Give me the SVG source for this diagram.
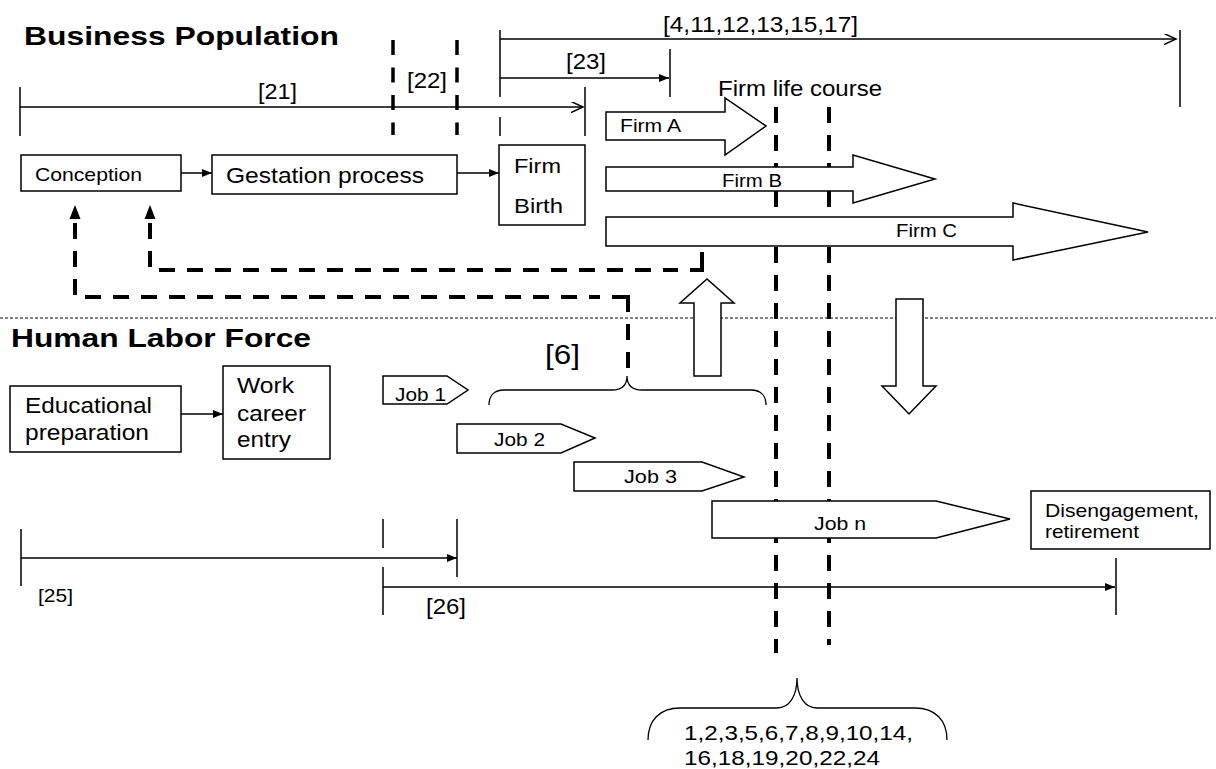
<svg xmlns="http://www.w3.org/2000/svg" width="1216" height="769" viewBox="0 0 1216 769">
<style>
text{font-family:"Liberation Sans",Arial,sans-serif;fill:#000}
.b{font-weight:bold}
.box{fill:#fff;stroke:#000;stroke-width:1.5}
.shape{fill:#fff;stroke:#000;stroke-width:1.5;stroke-linejoin:miter}
.ln{fill:none;stroke:#000;stroke-width:1.5}
.dash{fill:none;stroke:#000;stroke-width:4;stroke-dasharray:16 12}
.solid4{fill:none;stroke:#000;stroke-width:4}
.dash2{fill:none;stroke:#000;stroke-width:3.5;stroke-dasharray:15 12.5}
.brace{fill:none;stroke:#000;stroke-width:1.3}
</style>
<defs>
<marker id="tri" markerUnits="userSpaceOnUse" markerWidth="11" markerHeight="9" refX="10" refY="4" orient="auto"><path d="M0,0 L10,4 L0,8 Z" fill="#000"/></marker>
<marker id="open" markerUnits="userSpaceOnUse" markerWidth="14" markerHeight="12" refX="12" refY="5.5" orient="auto"><path d="M0,0 L12,5.5 L0,11" fill="none" stroke="#000" stroke-width="1.5"/></marker>
</defs>
<rect width="1216" height="769" fill="#fff"/>
<text class="b" x="24" y="45" font-size="26" textLength="315" lengthAdjust="spacingAndGlyphs">Business Population</text>
<text class="b" x="11" y="347" font-size="26" textLength="300" lengthAdjust="spacingAndGlyphs">Human Labor Force</text>
<g id="timelines">
<path class="ln" d="M500,39 H1176" marker-end="url(#open)"/>
<path class="ln" d="M1180,30 V107 M500,30 V97 M500,117 V136"/>
<path class="ln" d="M500,78 H669" marker-end="url(#tri)"/>
<path class="ln" d="M670,49 V97"/>
<path class="ln" d="M20,107 H583" stroke-width="2" marker-end="url(#open)"/>
<path class="ln" d="M20,87 V136 M585,87 V136"/>
<path class="dash2" d="M393,40 V135 M457,40 V135"/>
<path class="ln" d="M21,558 H457" marker-end="url(#tri)"/>
<path class="ln" d="M21,529 V586 M457,519 V577 M383,519 V548 M383,567 V615"/>
<path class="ln" d="M383,587 H1115" marker-end="url(#tri)"/>
<path class="ln" d="M1116,558 V615"/>
<path d="M0,318 H1216" fill="none" stroke="#000" stroke-width="1" stroke-dasharray="3 2"/>
</g>
<g id="labels">
<text x="663" y="32" font-size="22" textLength="195" lengthAdjust="spacingAndGlyphs">[4,11,12,13,15,17]</text>
<text x="566" y="69" font-size="22" textLength="40" lengthAdjust="spacingAndGlyphs">[23]</text>
<text x="258" y="99" font-size="22" textLength="39" lengthAdjust="spacingAndGlyphs">[21]</text>
<text x="407" y="88" font-size="22" textLength="40" lengthAdjust="spacingAndGlyphs">[22]</text>
<text x="718" y="96" font-size="22" textLength="164" lengthAdjust="spacingAndGlyphs">Firm life course</text>
<text x="545" y="364" font-size="27" textLength="35" lengthAdjust="spacingAndGlyphs">[6]</text>
<text x="38" y="602" font-size="18" textLength="35" lengthAdjust="spacingAndGlyphs">[25]</text>
<text x="426" y="614" font-size="22" textLength="40" lengthAdjust="spacingAndGlyphs">[26]</text>
<text x="684" y="740" font-size="21" textLength="229" lengthAdjust="spacingAndGlyphs">1,2,3,5,6,7,8,9,10,14,</text>
<text x="684" y="765" font-size="21" textLength="196" lengthAdjust="spacingAndGlyphs">16,18,19,20,22,24</text>
</g>
<g id="lifecourse-lines">
<path class="dash" d="M776,107 V653 M829,107 V645"/>
</g>
<g id="connectors">
<path class="ln" d="M181,173 H212" marker-end="url(#tri)"/>
<path class="ln" d="M457,173 H499" marker-end="url(#tri)"/>
<path class="ln" d="M181,414 H223" marker-end="url(#tri)"/>
<path class="dash" d="M75,223 V297 H600"/>
<path class="solid4" d="M612,297 H628 V312"/>
<path class="dash" d="M628,324 V376"/>
<path class="dash" d="M150,223 V270 H678"/>
<path class="solid4" d="M690,270 H702 V252"/>
<polygon points="75,205 69.5,219 80.5,219" fill="#000"/>
<polygon points="150,205 144.5,219 155.5,219" fill="#000"/>
<path class="brace" d="M489,405 C489,396 494,390 504,390 H612 C622,390 627,385 627,376 C627,385 632,390 642,390 H751 C761,390 766,396 766,405"/>
<path class="brace" d="M648,740 C648,720 660,708 680,708 H777 C790,708 797,695 797,678 C797,695 804,708 817,708 H915 C935,708 947,720 947,740"/>
</g>
<g id="conception"><rect class="box" x="21" y="155" width="160" height="36"/><text x="35" y="181" font-size="19" textLength="107" lengthAdjust="spacingAndGlyphs">Conception</text></g>
<g id="gestation"><rect class="box" x="212" y="155" width="245" height="39"/><text x="226" y="183" font-size="22" textLength="198" lengthAdjust="spacingAndGlyphs">Gestation process</text></g>
<g id="firm-birth"><rect class="box" x="499" y="145" width="86" height="80"/><text x="514" y="173" font-size="21" textLength="47" lengthAdjust="spacingAndGlyphs">Firm</text><text x="514" y="213" font-size="21" textLength="49" lengthAdjust="spacingAndGlyphs">Birth</text></g>
<g id="firm-a"><path class="shape" d="M606,112 H725 V98 L766,126 L725,155 V140 H606 Z"/><text x="620" y="132" font-size="19" textLength="61" lengthAdjust="spacingAndGlyphs">Firm A</text></g>
<g id="firm-b"><path class="shape" d="M606,167 H853 V155 L935,179 L853,203 V191 H606 Z"/><text x="722" y="187" font-size="19" textLength="60" lengthAdjust="spacingAndGlyphs">Firm B</text></g>
<g id="firm-c"><path class="shape" d="M606,217 H1013 V203 L1148,232 L1013,260 V246 H606 Z"/><text x="896" y="237" font-size="19" textLength="61" lengthAdjust="spacingAndGlyphs">Firm C</text></g>
<g id="up-arrow"><path class="shape" d="M694,376 V303 H680 L707,279 L734,303 H721 V376 Z"/></g>
<g id="down-arrow"><path class="shape" d="M896,299 V386 H882 L909,414 L936,386 H923 V299 Z"/></g>
<g id="education"><rect class="box" x="10" y="386" width="171" height="66"/><text x="25" y="413" font-size="22" textLength="127" lengthAdjust="spacingAndGlyphs">Educational</text><text x="25" y="440" font-size="22" textLength="124" lengthAdjust="spacingAndGlyphs">preparation</text></g>
<g id="work-entry"><rect class="box" x="223" y="366" width="107" height="93"/><text x="237" y="393" font-size="22" textLength="57" lengthAdjust="spacingAndGlyphs">Work</text><text x="237" y="421" font-size="22" textLength="69" lengthAdjust="spacingAndGlyphs">career</text><text x="237" y="447" font-size="22" textLength="54" lengthAdjust="spacingAndGlyphs">entry</text></g>
<g id="job-1"><path class="shape" d="M383,376 H447 L468,390 L447,404 H383 Z"/><text x="395" y="401" font-size="19" textLength="51" lengthAdjust="spacingAndGlyphs">Job 1</text></g>
<g id="job-2"><path class="shape" d="M457,424 H561 L595,438 L561,453 H457 Z"/><text x="494" y="446" font-size="19" textLength="51" lengthAdjust="spacingAndGlyphs">Job 2</text></g>
<g id="job-3"><path class="shape" d="M574,462 H702 L744,477 L702,491 H574 Z"/><text x="624" y="483" font-size="19" textLength="53" lengthAdjust="spacingAndGlyphs">Job 3</text></g>
<g id="job-n"><path class="shape" d="M712,501 H936 L1010,519 L936,538 H712 Z"/><text x="814" y="530" font-size="19" textLength="52" lengthAdjust="spacingAndGlyphs">Job n</text></g>
<g id="disengagement"><rect class="box" x="1031" y="491" width="179" height="58"/><text x="1045" y="517" font-size="19" textLength="154" lengthAdjust="spacingAndGlyphs">Disengagement,</text><text x="1045" y="538" font-size="19" textLength="94" lengthAdjust="spacingAndGlyphs">retirement</text></g>
</svg>
